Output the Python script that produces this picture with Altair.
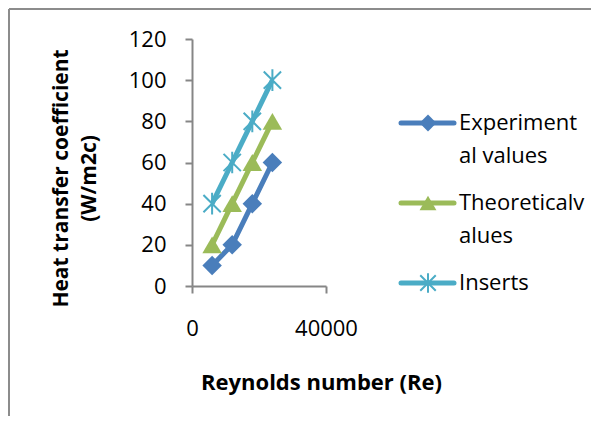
import altair as alt
import pandas as pd

# ---- data ----
re_values = [6000, 12000, 18000, 24000]
experimental = [10, 20, 40, 60]
theoretical = [20, 40, 60, 80]
inserts = [40, 60, 80, 100]
series_names = ["Experimental values", "Theoretical values", "Inserts"]
legend_text = ["Experiment\nal values", "Theoreticalv\nalues", "Inserts"]
x_ticks = [0, 40000]
y_ticks = [0, 20, 40, 60, 80, 100, 120]

# ---- styles ----
colors = ["#4a7ebb", "#9bbb59", "#4bacc6"]
asterisk = "M-1,-1L1,1M-1,1L1,-1M0,-1.25L0,1.25"
shapes = ["diamond", "triangle-up", asterisk]
sizes = [380, 380, 300]
filled = [True, True, False]
FONT = "Open Sans"
AXIS_GRAY = "#868686"

series_vals = [experimental, theoretical, inserts]

x_enc = alt.X(
    "Re:Q",
    scale=alt.Scale(domain=[0, 40000], nice=False, zero=True),
    axis=alt.Axis(
        values=x_ticks, format="d", title="Reynolds number (Re)",
        titleX=129, titleY=103, titleAlign="center", titleBaseline="alphabetic",
        titleFontSize=22,
        labelBaseline="alphabetic", labelPadding=42, labelFlush=False,
    ),
)
y_enc = alt.Y(
    "h:Q",
    scale=alt.Scale(domain=[0, 120], nice=False),
    axis=alt.Axis(
        values=y_ticks, title=["Heat transfer coefficient", "(W/m2c)"],
        titleX=-125, titleY=139, titleAngle=-90, titleAlign="center",
        titleBaseline="alphabetic", titleLineHeight=28, titleFontSize=21,
        labelPadding=19, labelBaseline="middle",
    ),
)

layers = []
# chart-area border (top and left visible in the reference)
one = pd.DataFrame({"k": [0]})
layers.append(alt.Chart(one).mark_rule(color="#8c8c8c", strokeWidth=2).encode(
    x=alt.value(-183), x2=alt.value(600), y=alt.value(-30)))
layers.append(alt.Chart(one).mark_rule(color="#8c8c8c", strokeWidth=2).encode(
    x=alt.value(-183), y=alt.value(-30), y2=alt.value(600)))

for name, vals, col, shp, sz, fl in zip(series_names, series_vals, colors, shapes, sizes, filled):
    d = pd.DataFrame({"series": name, "Re": re_values, "h": vals})
    base = alt.Chart(d)
    layers.append(base.mark_line(color=col, strokeWidth=5).encode(x=x_enc, y=y_enc))
    if fl:
        pm = base.mark_point(shape=shp, size=sz, filled=True, color=col, opacity=1)
    else:
        pm = base.mark_point(shape=shp, size=sz, filled=False, color=col, strokeWidth=2, opacity=1)
    layers.append(pm.encode(x=x_enc, y=y_enc))

# legend (drawn manually to reproduce the line+marker symbols and wrapped labels)
leg_sym_y = [84, 164, 244]
leg_txt_y = [91, 171, 251]
for name, txt, col, shp, sz, fl, sy, ty in zip(series_names, legend_text, colors, shapes,
                                               sizes, filled, leg_sym_y, leg_txt_y):
    ld = pd.DataFrame({"series": [name], "label": [txt]})
    lb = alt.Chart(ld)
    layers.append(lb.mark_rule(color=col, strokeWidth=5, strokeCap="round").encode(
        x=alt.value(209), x2=alt.value(262), y=alt.value(sy)))
    if fl:
        lp = lb.mark_point(shape=shp, size=sz * 0.75, filled=True, color=col, opacity=1)
    else:
        lp = lb.mark_point(shape=shp, size=sz * 0.8, filled=False, color=col, strokeWidth=2, opacity=1)
    layers.append(lp.encode(x=alt.value(236), y=alt.value(sy)))
    layers.append(lb.mark_text(align="left", baseline="alphabetic", font=FONT, fontSize=22,
                               lineBreak="\n", lineHeight=33, color="black").encode(
        x=alt.value(267), y=alt.value(ty), text="label:N"))

chart = alt.layer(*layers).properties(
    width=134, height=247,
    autosize=alt.AutoSizeParams(type="none"),
    padding={"left": 184, "top": 31, "right": 265, "bottom": 130},
    background="white",
).configure_view(stroke=None).configure_axis(
    grid=False,
    domainColor=AXIS_GRAY, domainWidth=2,
    tickColor=AXIS_GRAY, tickWidth=2, tickSize=7,
    labelFont=FONT, labelFontSize=22, labelColor="black",
    titleFont=FONT, titleFontWeight="bold", titleColor="black",
)

chart.save("out.html", embed_options={"renderer": "svg", "actions": False})
